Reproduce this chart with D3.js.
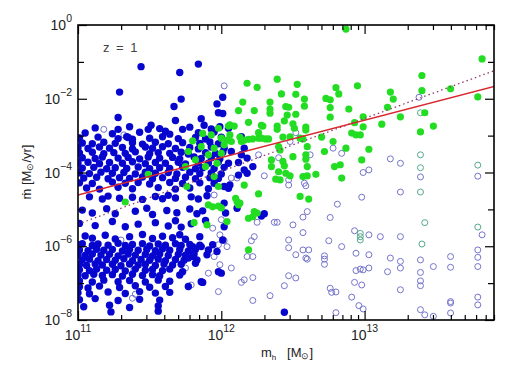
<!DOCTYPE html>
<html>
<head>
<meta charset="utf-8">
<script src="https://cdn.jsdelivr.net/npm/d3@7.9.0/dist/d3.min.js"></script>
<style>
  body { margin: 0; background: #fff; }
  svg { display: block; font-family: "Liberation Sans", Arial, sans-serif; }
</style>
</head>
<body>
<svg id="chart" width="518" height="370"></svg>
<script>
// all values are [log10 m_h (Msun), log10 mdot (Msun/yr)]

const bluePoints = [
  [11.44,-1.13],[11.29,-1.82],[11.28,-2.51],[11.71,-1.29],[11.84,-1.06],[11.72,-2.01],[11.67,-2.21],[11.68,-2.59],
  [11.51,-2.72],[11.49,-2.83],[11.61,-2.88],[11.73,-2.83],[11.86,-2.54],[11.97,-2.14],[12.01,-1.96],[11.98,-2.38],
  [12.01,-2.40],[11.88,-2.72],[11.99,-2.76],[12.05,-2.80],[11.34,-3.03],[11.38,-3.10],[11.28,-2.83],
  [11.12,-2.79],[11.36,-2.76],[11.57,-2.81],[11.78,-2.77],[11.93,-2.82],
  [11.05,-2.93],[11.24,-2.95],[11.43,-2.91],[11.64,-2.96],[11.84,-2.92],[11.95,-2.90],
  [11.01,-3.06],[11.14,-3.04],[11.28,-3.08],[11.35,-3.05],[11.50,-3.07],[11.59,-3.03],[11.70,-3.08],[11.82,-3.05],[11.89,-3.09],[12.00,-3.04],
  [11.03,-3.20],[11.10,-3.22],[11.18,-3.18],[11.26,-3.21],[11.38,-3.19],[11.45,-3.23],[11.54,-3.18],[11.63,-3.22],[11.73,-3.19],[11.85,-3.21],[11.92,-3.17],[11.98,-3.22],
  [11.00,-3.33],[11.07,-3.35],[11.15,-3.31],[11.22,-3.34],[11.31,-3.32],[11.38,-3.36],[11.47,-3.31],[11.52,-3.34],[11.59,-3.30],[11.68,-3.35],[11.78,-3.32],[11.84,-3.36],[11.93,-3.31],[12.02,-3.34],
  [11.01,-3.47],[11.10,-3.45],[11.18,-3.49],[11.25,-3.46],[11.33,-3.48],[11.40,-3.44],[11.50,-3.49],[11.56,-3.46],[11.64,-3.48],[11.72,-3.45],[11.77,-3.50],[11.89,-3.46],[11.96,-3.48],[12.01,-3.45],
  [11.03,-3.60],[11.12,-3.62],[11.17,-3.58],[11.28,-3.61],[11.35,-3.59],[11.43,-3.63],[11.49,-3.58],[11.57,-3.61],[11.66,-3.59],[11.71,-3.63],[11.81,-3.58],[11.86,-3.62],[11.93,-3.60],[11.99,-3.63],
  [11.00,-3.74],[11.07,-3.72],[11.15,-3.76],[11.22,-3.73],[11.31,-3.75],[11.38,-3.71],[11.47,-3.76],[11.54,-3.73],[11.61,-3.75],[11.70,-3.72],[11.75,-3.77],[11.84,-3.73],[11.91,-3.75],[11.98,-3.71],
  [11.03,-3.88],[11.11,-3.86],[11.20,-3.90],[11.26,-3.87],[11.34,-3.89],[11.42,-3.85],[11.50,-3.90],[11.57,-3.87],[11.64,-3.89],[11.73,-3.86],[11.82,-3.90],[11.87,-3.87],[11.95,-3.89],[12.02,-3.86],
  [11.01,-4.01],[11.08,-4.03],[11.16,-3.99],[11.24,-4.02],[11.32,-4.00],[11.40,-4.04],[11.47,-3.99],[11.54,-4.02],[11.63,-4.00],[11.69,-4.04],[11.78,-3.99],[11.85,-4.03],[11.93,-4.01],[12.00,-4.04],
  [11.04,-4.15],[11.13,-4.13],[11.21,-4.17],[11.29,-4.14],[11.36,-4.16],[11.45,-4.12],[11.52,-4.17],[11.59,-4.14],[11.68,-4.16],[11.75,-4.13],[11.82,-4.17],[11.92,-4.14],[11.98,-4.16],
  [11.01,-4.28],[11.10,-4.30],[11.24,-4.26],[11.33,-4.29],[11.42,-4.27],[11.50,-4.31],[11.64,-4.27],[11.73,-4.30],[11.85,-4.28],[11.95,-4.29],
  [11.06,-4.42],[11.15,-4.45],[11.28,-4.40],[11.38,-4.44],[11.56,-4.41],[11.68,-4.45],[11.78,-4.42],[11.91,-4.44],
  [11.08,-4.66],[11.17,-4.72],[11.21,-4.64],[11.29,-4.70],[11.38,-4.67],[11.45,-4.73],[11.54,-4.65],[11.59,-4.71],[11.63,-4.62],[11.68,-4.69],[11.79,-4.66],[11.84,-4.72],[11.90,-4.63],
  [11.03,-5.02],[11.10,-5.10],[11.20,-4.98],[11.26,-5.12],[11.40,-5.05],[11.48,-4.97],[11.52,-5.14],[11.62,-5.03],[11.69,-5.09],[11.78,-4.99],[11.83,-5.12],[11.87,-5.04],
  [11.01,-5.38],[11.12,-5.44],[11.24,-5.33],[11.33,-5.47],[11.42,-5.40],[11.54,-5.36],[11.63,-5.45],[11.68,-5.31],[11.72,-5.48],[11.79,-5.39],[11.89,-5.30],
  [11.05,-5.72],[11.10,-5.78],[11.19,-5.70],[11.26,-5.80],[11.36,-5.74],[11.45,-5.68],[11.52,-5.79],[11.59,-5.73],[11.66,-5.77],[11.71,-5.69],[11.75,-5.81],[11.85,-5.74],
  [12.02,-4.38],[12.05,-4.43],[12.06,-4.34],[12.02,-4.83],[12.03,-5.10],[12.11,-4.97],[12.28,-5.18],[12.30,-5.12],[12.02,-5.47],
  [12.12,-4.07],[12.18,-4.02],[12.16,-3.93],[12.14,-3.03],[12.16,-3.34],[12.14,-3.52],[12.18,-3.61],[12.22,-3.84],[12.12,-3.73],[12.07,-3.43],[12.05,-3.75],
  [11.00,-5.96],[11.03,-5.93],[11.10,-5.98],[11.14,-5.94],[11.21,-5.97],[11.28,-5.92],[11.33,-5.98],[11.38,-5.95],[11.45,-5.93],[11.50,-5.99],[11.56,-5.94],[11.61,-5.97],[11.68,-5.93],[11.72,-5.98],[11.78,-5.95],[11.85,-5.97],
  [11.01,-6.10],[11.07,-6.12],[11.13,-6.08],[11.18,-6.11],[11.24,-6.09],[11.31,-6.13],[11.36,-6.08],[11.42,-6.11],[11.48,-6.09],[11.54,-6.12],[11.59,-6.07],[11.64,-6.11],[11.71,-6.09],[11.77,-6.13],[11.82,-6.08],
  [11.00,-6.23],[11.05,-6.25],[11.10,-6.21],[11.16,-6.24],[11.22,-6.22],[11.28,-6.26],[11.35,-6.21],[11.40,-6.24],[11.47,-6.22],[11.52,-6.26],[11.57,-6.21],[11.63,-6.25],[11.70,-6.22],[11.75,-6.24],[11.81,-6.21],
  [11.03,-6.37],[11.08,-6.35],[11.14,-6.39],[11.20,-6.36],[11.26,-6.38],[11.32,-6.34],[11.38,-6.39],[11.44,-6.36],[11.50,-6.38],[11.56,-6.35],[11.61,-6.39],[11.68,-6.36],[11.74,-6.38],
  [11.01,-6.50],[11.06,-6.52],[11.12,-6.48],[11.17,-6.51],[11.24,-6.49],[11.30,-6.53],[11.36,-6.48],[11.42,-6.51],[11.47,-6.49],[11.54,-6.52],[11.60,-6.48],[11.66,-6.51],[11.72,-6.49],
  [11.01,-6.64],[11.08,-6.66],[11.13,-6.62],[11.20,-6.65],[11.26,-6.63],[11.33,-6.67],[11.40,-6.62],[11.47,-6.65],[11.52,-6.63],[11.59,-6.66],[11.64,-6.62],
  [11.00,-6.78],[11.05,-6.80],[11.11,-6.76],[11.17,-6.79],[11.24,-6.77],[11.31,-6.81],[11.38,-6.76],[11.45,-6.79],[11.52,-6.77],[11.57,-6.80],
  [11.01,-6.94],[11.10,-6.97],[11.18,-6.92],[11.28,-6.96],[11.36,-6.93],[11.47,-6.97],[11.56,-6.92],[11.64,-6.95],
  [11.01,-7.10],[11.07,-7.13],[11.15,-7.08],[11.29,-7.12],[11.40,-7.07],[11.50,-7.11],[11.61,-7.09],
  [11.00,-7.26],[11.08,-7.29],[11.21,-7.24],[11.33,-7.28],[11.43,-7.23],[11.54,-7.27],[11.64,-7.25],
  [11.01,-7.45],[11.12,-7.42],[11.28,-7.47],[11.43,-7.44],[11.57,-7.46],
  [11.04,-7.64],[11.22,-7.60],[11.36,-7.66],[11.56,-7.62],[11.23,-7.78],[11.56,-7.76],
  [11.77,-6.32],[11.80,-6.28],[11.82,-6.46],[11.83,-6.37],[11.90,-6.23],[11.91,-6.10],[11.94,-5.96],[11.97,-6.14],
  [12.01,-5.83],[11.71,-6.78],[11.73,-6.69],[11.77,-7.09],[11.86,-6.96],[11.98,-6.69],[12.00,-6.73],[11.80,-6.01],
  [11.86,-6.01],[11.87,-6.98],[12.44,-7.79]
];

const greenPoints = [
  [12.18,-1.58],[12.25,-1.69],[12.39,-1.47],[12.53,-1.61],[12.42,-1.87],[12.52,-1.88],[12.58,-2.01],[12.15,-2.09],
  [12.34,-2.09],[12.12,-2.32],[12.23,-2.32],[12.34,-2.28],[12.34,-2.39],[12.45,-2.21],[12.47,-2.23],[12.58,-2.20],
  [12.46,-2.44],[12.52,-2.42],[12.19,-2.64],[12.28,-2.72],[12.39,-2.74],[12.44,-2.60],[12.50,-2.68],[12.51,-2.80],
  [12.59,-2.77],[12.73,-1.99],[12.76,-2.03],[12.80,-1.70],[12.82,-1.87],[12.76,-2.24],[12.76,-2.50],[12.89,-2.28],
  [12.95,-1.65],[12.87,-0.11],[12.93,-2.65],[12.06,-2.71],[12.09,-2.74],[12.99,-2.49],[12.29,-2.74],[12.39,-2.83],
  [12.59,-2.85],[12.94,-2.98],[12.97,-2.98],[12.91,-2.93],[12.99,-2.76],[12.05,-2.74],[12.26,-2.92],[12.06,-2.98],
  [12.07,-3.16],[12.13,-3.04],[12.14,-3.16],[12.16,-3.12],[12.19,-3.10],[12.22,-3.09],[12.26,-3.07],[12.28,-3.07],
  [12.31,-3.09],[12.33,-3.09],[12.43,-3.04],[12.48,-3.03],[12.55,-3.07],[12.57,-3.09],[12.70,-3.04],[12.78,-3.16],
  [12.60,-3.30],[12.59,-3.52],[12.59,-3.64],[12.60,-3.84],[12.40,-3.30],[12.41,-3.39],[12.50,-3.57],[12.72,-3.43],
  [12.83,-3.79],[12.79,-3.84],[12.98,-3.66],[12.87,-3.34],[13.03,-3.37],[12.35,-3.66],[12.35,-3.84],[12.43,-3.70],
  [12.44,-3.82],[12.04,-3.12],[12.02,-3.25],
  [13.82,-0.92],[13.40,-1.37],[13.40,-1.78],[13.60,-1.73],[13.79,-1.95],[13.18,-1.82],[13.20,-2.01],[13.16,-2.23],
  [13.25,-2.49],[13.42,-2.38],[13.48,-2.74],[13.12,-2.69],[13.39,-2.90],
  [12.16,-4.34],[12.26,-4.58],[12.10,-4.70],[12.11,-4.79],[12.12,-4.88],[12.13,-4.83],[12.23,-5.06],[12.25,-5.10],
  [12.19,-5.24],[12.22,-5.20],[12.04,-5.33],[12.19,-6.10],[12.55,-4.65],[12.61,-4.72],[12.38,-4.18],[12.41,-4.20],
  [12.45,-4.02],[12.48,-4.09],[12.40,-3.98],[12.57,-4.11],[12.60,-4.09],[12.66,-4.05],[12.84,-4.15],
  [11.33,-4.80],[11.76,-4.38],[11.95,-4.11],[11.98,-4.38],[11.91,-4.88],[11.94,-4.93],[11.98,-4.91],[12.00,-4.96],
  [11.81,-5.36],[11.90,-5.42],[11.80,-3.14],[11.87,-2.94],[11.93,-2.98],[11.98,-2.80],[12.00,-3.07],[11.86,-3.30],
  [11.95,-3.34],[11.77,-3.43],[11.91,-3.52],[12.00,-3.48],[11.82,-3.66],[11.97,-3.75],[11.89,-3.84],[11.75,-3.84],
  [11.49,-4.05]
];

const openBlue = [
  [11.18,-2.83],[11.32,-2.98],[12.02,-1.65],[11.30,-5.83],[11.39,-6.64],[11.40,-7.30],[11.51,-6.32],[11.57,-6.82],
  [11.75,-6.59],[11.79,-7.05],[11.91,-6.73],[11.95,-6.28],[11.99,-6.50],[11.98,-5.96],[11.99,-5.69],[11.94,-5.51],
  [12.00,-5.28],[11.98,-7.23],[11.95,-4.61],[11.38,-7.41],[12.07,-4.15],[12.11,-4.15],[12.30,-4.09],[12.47,-4.20],
  [12.47,-4.34],[12.58,-4.29],[12.59,-4.36],[12.99,-4.00],[13.03,-3.93],[12.81,-4.86],[12.98,-4.67],[12.60,-5.06],
  [12.57,-5.21],[12.76,-5.22],[12.37,-5.35],[12.39,-5.35],[12.50,-5.42],[12.57,-5.63],[12.25,-5.35],[12.23,-5.74],
  [12.21,-5.85],[12.47,-5.83],[12.47,-6.04],[12.75,-5.85],[12.93,-5.58],[13.03,-5.69],[12.57,-6.10],[12.61,-6.10],
  [12.52,-6.23],[12.59,-6.32],[12.60,-6.35],[12.72,-6.26],[12.72,-6.35],[12.72,-6.49],[12.94,-6.19],[12.18,-6.28],
  [12.22,-6.28],[13.03,-6.23],[12.07,-6.59],[12.94,-6.66],[12.97,-6.62],[12.99,-6.64],[13.03,-6.59],[12.14,-6.98],
  [12.16,-6.91],[12.22,-6.85],[12.47,-6.80],[12.52,-6.86],[12.93,-6.98],[12.98,-7.05],[12.44,-7.07],[12.76,-7.14],
  [12.77,-7.25],[12.80,-7.24],[12.34,-7.34],[12.91,-7.38],[12.22,-7.47],[12.96,-7.61],[12.99,-7.70],[12.80,-7.80],
  [12.84,-6.01],[12.02,-5.85],[12.04,-6.01],[12.52,-2.92],[12.78,-3.34],[12.84,-3.48],[12.40,-3.60],[12.62,-3.52],
  [12.26,-3.52],[12.48,-3.16],
  [13.38,-1.96],[13.18,-3.63],[13.25,-3.75],[13.25,-4.53],[13.39,-4.12],[13.79,-4.10],[13.82,-5.69],[13.11,-5.74],
  [13.25,-5.74],[13.18,-6.32],[13.25,-6.41],[13.25,-6.59],[13.16,-6.69],[13.39,-6.37],[13.39,-6.71],[13.48,-6.55],
  [13.60,-6.28],[13.60,-6.57],[13.79,-6.10],[13.79,-6.30],[13.79,-6.55],[13.39,-6.94],[13.39,-7.07],[13.25,-7.18],
  [13.39,-7.72],[13.42,-7.86],[13.48,-7.90],[13.60,-7.50],[13.60,-7.54],[13.60,-7.81],[13.79,-7.38],[13.79,-7.59]
];

const openGreen = [
  [13.39,-2.38],[13.39,-3.52],[13.39,-3.87],[13.39,-4.53],[13.79,-3.80],[13.42,-5.36],[13.79,-5.48],[13.40,-5.94],
  [12.97,-5.65],[12.97,-5.74],[12.97,-5.83]
];

// fitted relations, end points
const fitLogM = [11.0, 13.91];
const fitSolid = [-4.61, -1.66];
const fitDotted = [-5.40, -1.23];

const xMajor = [1e11, 1e12, 1e13];
const yMajor = [1e0, 1e-2, 1e-4, 1e-6, 1e-8];
const yMinor = [1e-1, 1e-3, 1e-5, 1e-7];

const svg = d3.select('#chart');
const plotL = 78, plotR = 494, plotT = 25, plotB = 320;

const x = d3.scaleLog().domain([1e11, 8e13]).range([plotL, plotR]);
const y = d3.scaleLog().domain([1e-8, 1]).range([plotB, plotT]);

const xMinor = [];
[1e11, 1e12, 1e13].forEach((d) => {
  for (let k = 2; k <= 9; k++) if (d * k <= 8e13) xMinor.push(d * k);
});

const px = (d) => x(10 ** d[0]);
const py = (d) => y(10 ** d[1]);

svg.append('rect').attr('width', 518).attr('height', 370).attr('fill', '#fff');

svg.append('clipPath').attr('id', 'clip')
  .append('rect').attr('x', plotL).attr('y', plotT).attr('width', plotR - plotL).attr('height', plotB - plotT);

const plot = svg.append('g').attr('clip-path', 'url(#clip)');

plot.append('g').selectAll('circle').data(openBlue).join('circle')
  .attr('cx', px).attr('cy', py).attr('r', 3)
  .attr('fill', 'none').attr('stroke', '#7474cc').attr('stroke-width', 1);

plot.append('g').selectAll('circle').data(openGreen).join('circle')
  .attr('cx', px).attr('cy', py).attr('r', 3)
  .attr('fill', 'none').attr('stroke', '#55a88c').attr('stroke-width', 1);

plot.append('g').selectAll('circle').data(bluePoints).join('circle')
  .attr('cx', px).attr('cy', py).attr('r', 3.7)
  .attr('fill', '#0606cf');

plot.append('g').selectAll('circle').data(greenPoints).join('circle')
  .attr('cx', px).attr('cy', py).attr('r', 3.6)
  .attr('fill', '#22dd22');

const line = d3.line().x((d) => x(10 ** d[0])).y((d) => y(10 ** d[1]));

plot.append('path')
  .attr('d', line(fitLogM.map((m, i) => [m, fitDotted[i]])))
  .attr('fill', 'none').attr('stroke', '#8e3a6c').attr('stroke-width', 1.3)
  .attr('stroke-dasharray', '1.5,3');

plot.append('path')
  .attr('d', line(fitLogM.map((m, i) => [m, fitSolid[i]])))
  .attr('fill', 'none').attr('stroke', '#d8262e').attr('stroke-width', 1.4);

// ticks, pointing inward on all four sides
function ticks(axis, values, size, transform) {
  svg.append('g').attr('transform', transform)
    .call(axis.tickValues(values).tickSize(-size).tickFormat(''))
    .call((g) => g.select('.domain').remove())
    .call((g) => g.selectAll('line').attr('stroke', '#000').attr('stroke-width', 1.2));
}
ticks(d3.axisBottom(x), xMajor, 9, `translate(0,${plotB})`);
ticks(d3.axisBottom(x), xMinor, 5, `translate(0,${plotB})`);
ticks(d3.axisTop(x), xMajor, 9, `translate(0,${plotT})`);
ticks(d3.axisTop(x), xMinor, 5, `translate(0,${plotT})`);
ticks(d3.axisLeft(y), yMajor, 9, `translate(${plotL},0)`);
ticks(d3.axisLeft(y), yMinor, 6, `translate(${plotL},0)`);
ticks(d3.axisRight(y), yMajor, 9, `translate(${plotR},0)`);
ticks(d3.axisRight(y), yMinor, 6, `translate(${plotR},0)`);

svg.append('rect')
  .attr('x', plotL).attr('y', plotT).attr('width', plotR - plotL).attr('height', plotB - plotT)
  .attr('fill', 'none').attr('stroke', '#000').attr('stroke-width', 1.6);

// tick labels
const expText = (v) => {
  const e = Math.round(Math.log10(v));
  return e < 0 ? '\u2212' + (-e) : String(e);
};

xMajor.forEach((v) => {
  const t = svg.append('text').attr('x', x(v)).attr('y', 340)
    .attr('text-anchor', 'middle').attr('font-size', 14).attr('fill', '#222');
  t.append('tspan').text('10');
  t.append('tspan').attr('dy', -8).attr('font-size', 10.5).text(expText(v));
});

yMajor.forEach((v) => {
  const t = svg.append('text').attr('x', 72).attr('y', y(v) + 5)
    .attr('text-anchor', 'end').attr('font-size', 14).attr('fill', '#222');
  t.append('tspan').text('10');
  t.append('tspan').attr('dy', -8).attr('font-size', 10.5).text(expText(v));
});

// axis titles
const xt = svg.append('text').attr('x', 287).attr('y', 357)
  .attr('text-anchor', 'middle').attr('font-size', 13).attr('fill', '#222')
  .style('white-space', 'pre');
xt.append('tspan').text('m');
xt.append('tspan').attr('dy', 3).attr('font-size', 8).text('h');
xt.append('tspan').attr('dy', -3).text('   [M');
xt.append('tspan').attr('dy', 2).attr('font-size', 9).text('\u2299');
xt.append('tspan').attr('dy', -2).text(']');

const yt = svg.append('text').attr('transform', 'translate(31,172) rotate(-90)')
  .attr('text-anchor', 'middle').attr('font-size', 13).attr('fill', '#222')
  .style('white-space', 'pre');
yt.append('tspan').text('\u1e41 [M');
yt.append('tspan').attr('dy', 2).attr('font-size', 9).text('\u2299');
yt.append('tspan').attr('dy', -2).text('/yr]');

svg.append('text').attr('x', 103).attr('y', 52)
  .attr('font-size', 13).attr('fill', '#444').attr('word-spacing', 3)
  .text('z = 1');
</script>
</body>
</html>
